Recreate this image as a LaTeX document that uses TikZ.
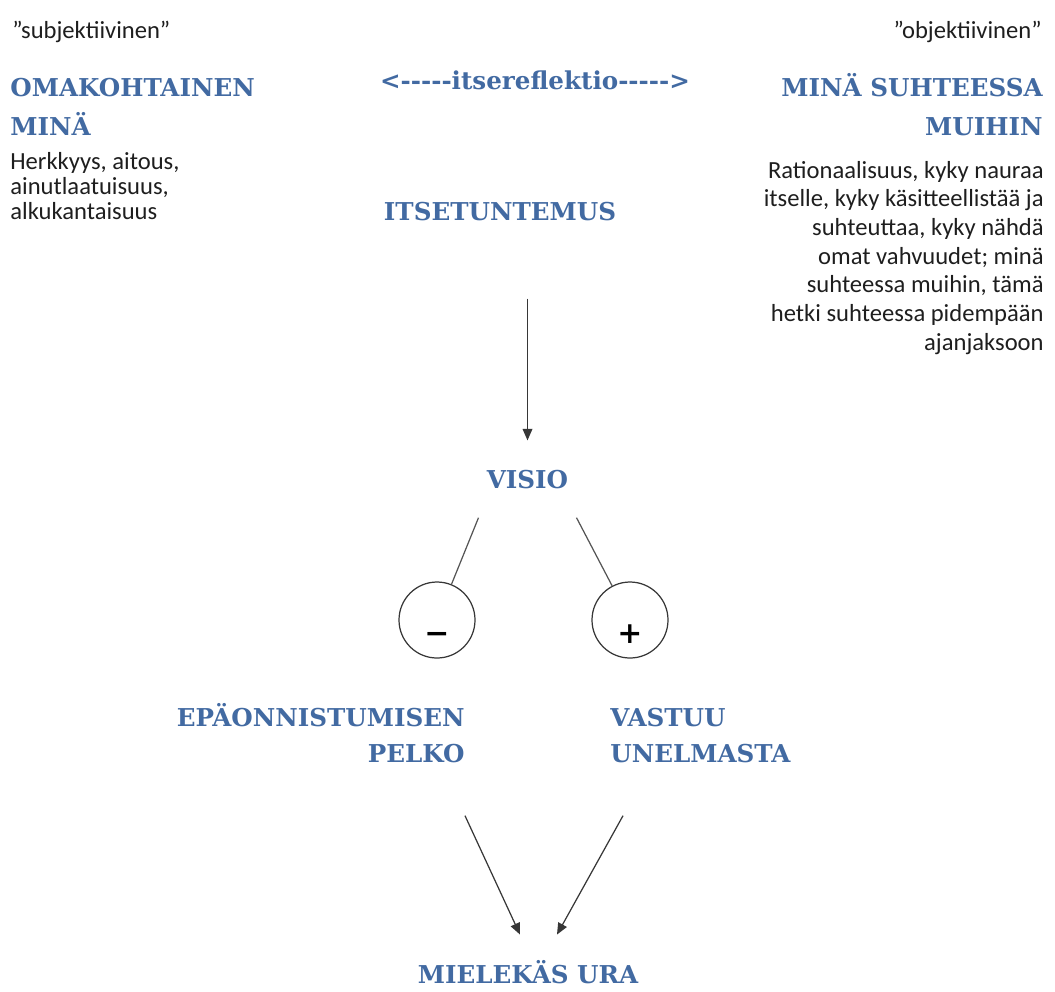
\documentclass[tikz,border=0pt]{standalone}
\usepackage{fontspec}
\setmainfont{Carlito}
\newfontfamily\headfont{DejaVu Serif}[Ligatures=TeXOff]
\usetikzlibrary{arrows.meta, positioning}

\definecolor{headblue}{RGB}{66,106,162}
\definecolor{bodytext}{RGB}{30,30,30}
\definecolor{linegray}{RGB}{55,55,55}

\tikzset{
  head/.style={inner sep=0pt, text=headblue, font=\headfont\bfseries\fontsize{14}{22}\selectfont},
  body/.style={inner sep=0pt, text=bodytext, font=\fontsize{14}{14.2}\selectfont},
  sign/.style={circle, draw=linegray, line width=0.7pt, minimum size=1.52cm, inner sep=0pt,
    text height=27pt, text depth=0pt, font=\headfont\bfseries\fontsize{17}{17}\selectfont},
  arr/.style={draw=linegray, line width=0.7pt, -{Triangle[length=6.5pt,width=5.5pt]}},
  stick/.style={draw=linegray!85, line width=0.7pt}
}

\begin{document}
\begin{tikzpicture}
  \useasboundingbox (0,0) rectangle (21.1,-19.82);

  % otsakkeet
  \node[body, anchor=base west] (subj) at (0.24,-0.76) {”subjektiivinen”};
  \node[body, anchor=base east] (obj) at (20.84,-0.76) {”objektiivinen”};

  % vasen puoli (base = viimeinen rivi)
  \node[head, anchor=base west, align=left] (own) at (0.2,-2.70) {OMAKOHTAINEN\\MINÄ};
  \node[body, anchor=base west, align=left] (ownText) at (0.2,-4.38)
    {Herkkyys, aitous,\\ainutlaatuisuus,\\alkukantaisuus};

  % keskikohta
  \node[head, anchor=base] (reflex) at (10.7,-1.78) {<-----itsereflektio----->};
  \node[head, anchor=base] (itse) at (10.0,-4.40) {ITSETUNTEMUS};

  % oikea puoli
  \node[head, anchor=base east, align=right] (other) at (20.86,-2.70) {MINÄ SUHTEESSA\\MUIHIN};
  \node[body, anchor=base east, align=right, font=\fontsize{14}{16.3}\selectfont] (otherText) at (20.88,-7.00)
    {Rationaalisuus, kyky nauraa\\itselle, kyky käsitteellistää ja\\suhteuttaa, kyky nähdä\\omat vahvuudet; minä\\suhteessa muihin, tämä\\hetki suhteessa pidempään\\ajanjaksoon};

  % visio ja navat
  \node[head, anchor=base, inner xsep=0.16cm, inner ysep=0.58cm] (visio) at (10.55,-9.76) {VISIO};
  \node[sign] (minus) at (8.74,-12.40) {−};
  \node[sign] (plus) at (12.60,-12.40) {+};

  \node[head, anchor=base east, align=right, font=\headfont\bfseries\fontsize{14}{20}\selectfont] (fear) at (9.30,-15.24)
    {EPÄONNISTUMISEN\\PELKO};
  \node[head, anchor=base west, align=left, font=\headfont\bfseries\fontsize{14}{20}\selectfont] (resp) at (12.20,-15.24)
    {VASTUU\\UNELMASTA};
  \node[head, anchor=base] (ura) at (10.56,-19.66) {MIELEKÄS URA};

  % nuolet
  \draw[arr, shorten <=1.56cm] (visio |- itse.south) -- (visio.north);
  \draw[stick] (visio.south west) -- (minus);
  \draw[stick] (visio.south east) -- (plus);
  \draw[arr] ([yshift=-1.06cm]fear.south east) -- ([xshift=-0.16cm, yshift=0.5cm]ura.north);
  \draw[arr] ([xshift=0.26cm, yshift=-1.06cm]resp.south west) -- ([xshift=0.58cm, yshift=0.5cm]ura.north);
\end{tikzpicture}
\end{document}
